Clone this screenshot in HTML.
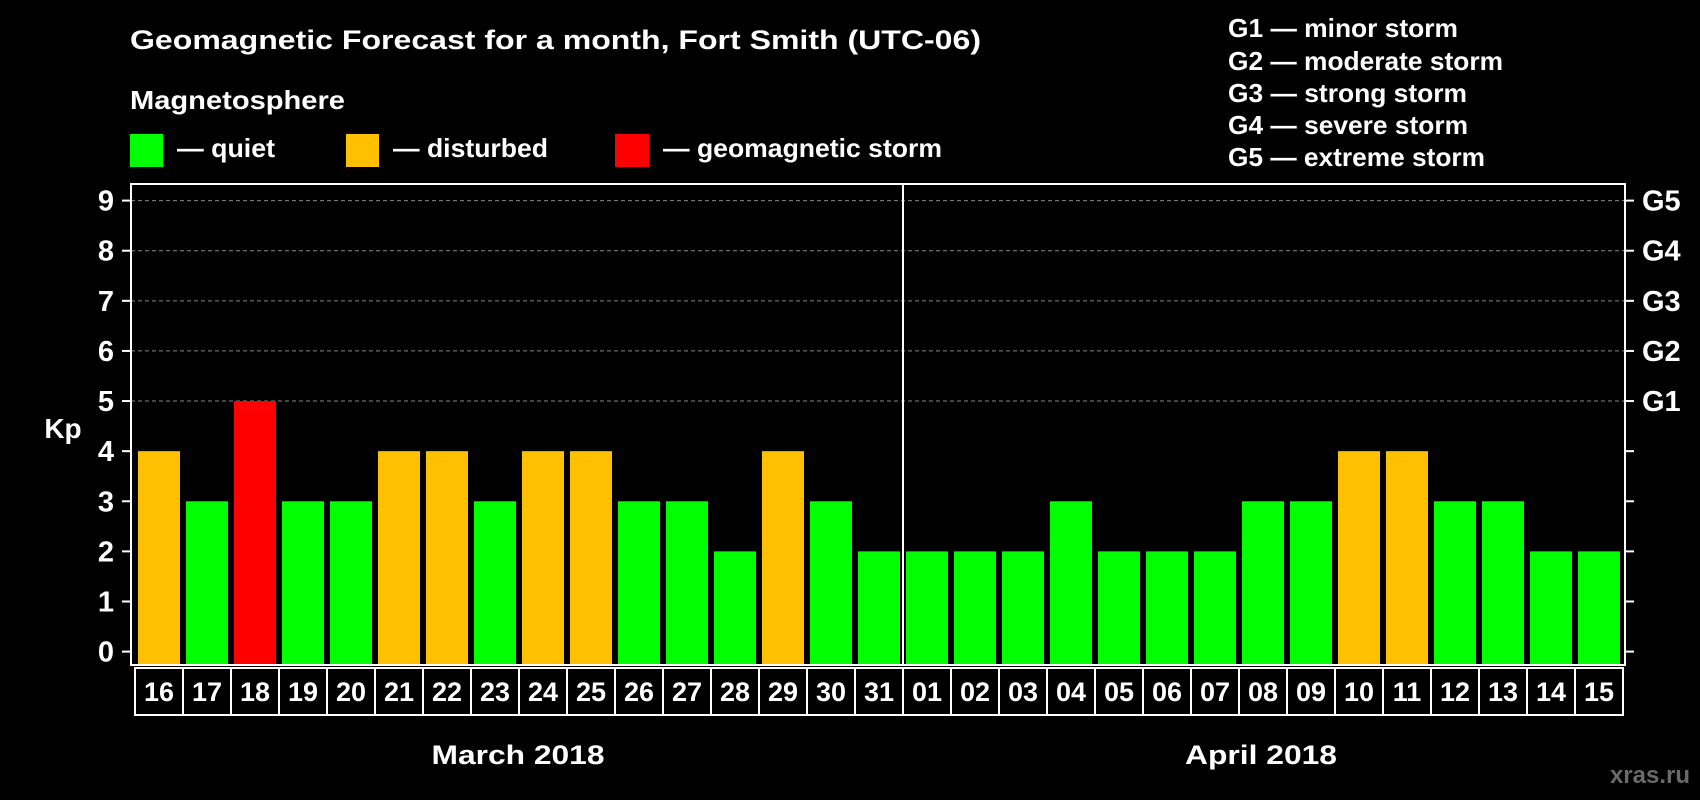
<!DOCTYPE html>
<html><head><meta charset="utf-8">
<style>
html,body{margin:0;padding:0;background:#000;}
svg{display:block;font-family:"Liberation Sans",Arial,sans-serif;font-weight:bold;}
</style></head>
<body>
<svg id="chart" width="1700" height="800" viewBox="0 0 1700 800">
<text x="130" y="49" font-size="27" fill="#fff" textLength="851" lengthAdjust="spacingAndGlyphs">Geomagnetic Forecast for a month, Fort Smith (UTC-06)</text>
<text x="130" y="109" font-size="26" fill="#fff" textLength="215" lengthAdjust="spacingAndGlyphs">Magnetosphere</text>
<g>
<rect x="130" y="134" width="33" height="33" fill="#00ff00"/>
<text x="177" y="157" font-size="26" fill="#fff" textLength="98" lengthAdjust="spacingAndGlyphs">— quiet</text></g>
<g>
<rect x="346" y="134" width="33" height="33" fill="#ffc000"/>
<text x="393" y="157" font-size="26" fill="#fff" textLength="155" lengthAdjust="spacingAndGlyphs">— disturbed</text></g>
<g>
<rect x="615" y="134" width="34" height="33" fill="#ff0000"/>
<text x="663" y="157" font-size="26" fill="#fff" textLength="279" lengthAdjust="spacingAndGlyphs">— geomagnetic storm</text></g>
<g font-size="26" fill="#fff">
<text x="1228" y="37" textLength="230" lengthAdjust="spacingAndGlyphs">G1 — minor storm</text>
<text x="1228" y="70" textLength="275" lengthAdjust="spacingAndGlyphs">G2 — moderate storm</text>
<text x="1228" y="102" textLength="239" lengthAdjust="spacingAndGlyphs">G3 — strong storm</text>
<text x="1228" y="134" textLength="240" lengthAdjust="spacingAndGlyphs">G4 — severe storm</text>
<text x="1228" y="166" textLength="257" lengthAdjust="spacingAndGlyphs">G5 — extreme storm</text>
</g>
<g id="grid"></g>
<g id="bars"></g>
<g id="axes"></g>
<text x="63" y="438" font-size="28" fill="#fff" text-anchor="middle">Kp</text>
<text x="518" y="764" font-size="27" fill="#fff" text-anchor="middle" textLength="173" lengthAdjust="spacingAndGlyphs">March 2018</text>
<text x="1261" y="764" font-size="27" fill="#fff" text-anchor="middle" textLength="152" lengthAdjust="spacingAndGlyphs">April 2018</text>
<text x="1690" y="783" font-size="24" fill="#6a6a6a" text-anchor="end">xras.ru</text>
</svg>
<script>
const days = ["16","17","18","19","20","21","22","23","24","25","26","27","28","29","30","31","01","02","03","04","05","06","07","08","09","10","11","12","13","14","15"];
const kpValues = [4,3,5,3,3,4,4,3,4,4,3,3,2,4,3,2,2,2,2,3,2,2,2,3,3,4,4,3,3,2,2];
const yTicks = [0,1,2,3,4,5,6,7,8,9];
const gLabels = ["G1","G2","G3","G4","G5"];

const NS="http://www.w3.org/2000/svg";
const X0=131, X1=1625, Y0=184, Y1=665;
const SLOT=48, BARX0=138, BARW=42;
function yScale(v){return 651.6 - v*(451/9);}
function xSlot(i){return BARX0 + i*SLOT;}
function colorFor(v){return v>=5?"#ff0000":(v>=4?"#ffc000":"#00ff00");}
function mk(tag,attrs,parent){const e=document.createElementNS(NS,tag);for(const k in attrs)e.setAttribute(k,attrs[k]);parent.appendChild(e);return e;}

const grid=document.getElementById('grid'), bars=document.getElementById('bars'), axes=document.getElementById('axes');

yTicks.forEach(function(t){
  const y=yScale(t);
  if(t>=5){
    const g=mk('line',{x1:X0,x2:X1,y1:y,y2:y,stroke:'#888','stroke-width':1,'stroke-dasharray':'4,3'},grid);
    
    
  }
  const tk=mk('line',{x1:122,x2:X0,y1:y,y2:y,stroke:'#fff','stroke-width':2},axes);
  
  
  const tr=mk('line',{x1:X1,x2:1634,y1:y,y2:y,stroke:'#fff','stroke-width':2},axes);
  
  
  const lb=mk('text',{x:114,y:y+10,'font-size':29,fill:'#fff','text-anchor':'end'},axes);
  lb.textContent=t;
  
  
});
gLabels.forEach(function(g,i){
  const y=yScale(5+i);
  const lb=mk('text',{x:1642,y:y+10,'font-size':29,fill:'#fff'},axes);
  lb.textContent=g;
  
  
});

kpValues.forEach(function(v,i){
  const y=yScale(v);
  const r=mk('rect',{x:xSlot(i),y:y,width:BARW,height:Y1-y-1,fill:colorFor(v)},bars);
  
  
});

const frame=mk('rect',{x:X0,y:Y0,width:X1-X0,height:Y1-Y0,fill:'none',stroke:'#fff','stroke-width':2},axes);


const div=mk('line',{x1:903,x2:903,y1:Y0,y2:Y1,stroke:'#fff','stroke-width':2},axes);



days.forEach(function(d,i){
  const bx=135+i*SLOT;
  const b=mk('rect',{x:bx,y:668,width:SLOT,height:47,fill:'none',stroke:'#fff','stroke-width':2},axes);
  
  
  const t=mk('text',{x:bx+SLOT/2,y:701,'font-size':27,fill:'#fff','text-anchor':'middle'},axes);
  t.textContent=d;
  
  
});
</script>
</body></html>
